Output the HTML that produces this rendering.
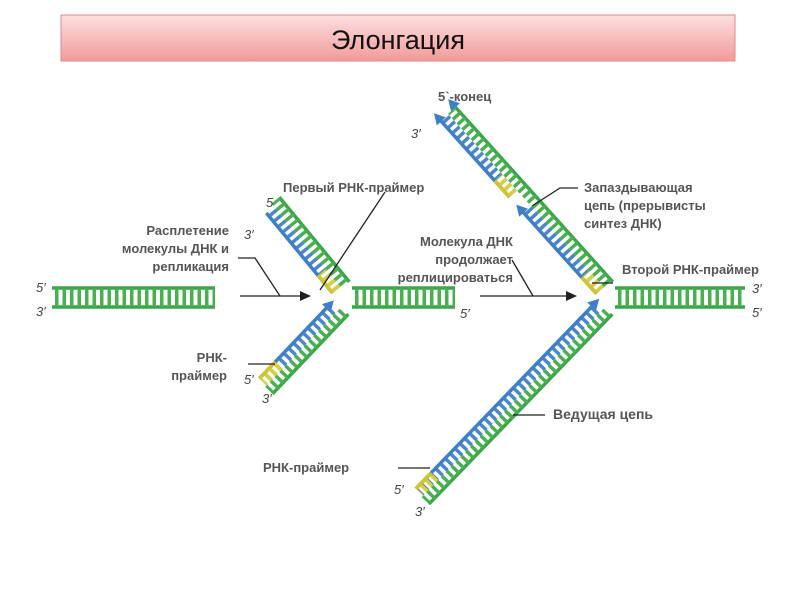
<!DOCTYPE html>
<html><head><meta charset="utf-8"><style>
body{margin:0;background:#fff;width:800px;height:600px;overflow:hidden;font-family:"Liberation Sans",sans-serif}
text{font-family:"Liberation Sans",sans-serif;font-weight:bold;fill:#555;font-size:13px}
.n{font-weight:normal;fill:#444;font-size:13px;font-style:italic}
</style></head><body>
<svg width="800" height="600" viewBox="0 0 800 600" xmlns="http://www.w3.org/2000/svg">
<defs>
<linearGradient id="tg" x1="0" y1="0" x2="0" y2="1"><stop offset="0" stop-color="#fde0e0"/><stop offset="1" stop-color="#f29a9a"/></linearGradient>
</defs>
<rect x="61" y="15" width="674" height="46" fill="url(#tg)" stroke="#d88" stroke-width="1"/>
<text x="398" y="49" text-anchor="middle" style="font-size:27px;font-weight:normal;fill:#111">Элонгация</text>

<!-- left duplex -->
<line x1="52" y1="288" x2="215" y2="288" stroke="#3aa64a" stroke-width="3.5"/>
<line x1="52" y1="307" x2="215" y2="307" stroke="#3aa64a" stroke-width="3.5"/>
<line x1="55" y1="297.5" x2="215" y2="297.5" stroke="#49b050" stroke-width="18" stroke-dasharray="3.5 4"/>
<line x1="352" y1="288" x2="455" y2="288" stroke="#3aa64a" stroke-width="3.5"/>
<line x1="352" y1="307" x2="455" y2="307" stroke="#3aa64a" stroke-width="3.5"/>
<line x1="355" y1="297.5" x2="455" y2="297.5" stroke="#49b050" stroke-width="18" stroke-dasharray="3.5 4"/>
<line x1="615" y1="288" x2="745" y2="288" stroke="#3aa64a" stroke-width="3.5"/>
<line x1="615" y1="307" x2="745" y2="307" stroke="#3aa64a" stroke-width="3.5"/>
<line x1="618" y1="297.5" x2="745" y2="297.5" stroke="#49b050" stroke-width="18" stroke-dasharray="3.5 4"/>

<!-- fork1 upper -->
<g transform="translate(348,296) rotate(-129.6)">
<line x1="10" y1="10" x2="120" y2="10" stroke="#3aa64a" stroke-width="3.5"/>
<line x1="12" y1="5" x2="120" y2="5" stroke="#49b050" stroke-width="10" stroke-dasharray="3.5 3.5"/>
<line x1="12" y1="-5" x2="116" y2="-5" stroke="#4a86cc" stroke-width="10" stroke-dasharray="3.5 3.5"/>
<line x1="12" y1="-10" x2="116" y2="-10" stroke="#3f7fc8" stroke-width="3.5"/>
<line x1="12" y1="-5" x2="35" y2="-5" stroke="#d8cf3c" stroke-width="10" stroke-dasharray="3.5 3.5"/>
<line x1="12" y1="-10" x2="35" y2="-10" stroke="#d0c530" stroke-width="3.5"/>
</g>
<!-- fork1 lower -->
<g transform="translate(348,300) rotate(133.6)">
<line x1="10" y1="-10" x2="120" y2="-10" stroke="#3aa64a" stroke-width="3.5"/>
<line x1="12" y1="-5" x2="120" y2="-5" stroke="#49b050" stroke-width="10" stroke-dasharray="3.5 3.5"/>
<line x1="18" y1="5" x2="118" y2="5" stroke="#4a86cc" stroke-width="10" stroke-dasharray="3.5 3.5"/>
<line x1="18" y1="10" x2="118" y2="10" stroke="#3f7fc8" stroke-width="3.5"/>
<line x1="95" y1="5" x2="118" y2="5" stroke="#d8cf3c" stroke-width="10" stroke-dasharray="3.5 3.5"/>
<line x1="95" y1="10" x2="118" y2="10" stroke="#d0c530" stroke-width="3.5"/>
<polygon points="10,10 21,4 21,16" fill="#3f7fc8"/>
</g>
<!-- fork2 upper -->
<g transform="translate(612,296) rotate(-132)">
<line x1="10" y1="10" x2="245" y2="10" stroke="#3aa64a" stroke-width="3.5"/>
<line x1="12" y1="5" x2="245" y2="5" stroke="#49b050" stroke-width="10" stroke-dasharray="3.5 3.5"/>
<line x1="12" y1="-5" x2="122" y2="-5" stroke="#4a86cc" stroke-width="10" stroke-dasharray="3.5 3.5"/>
<line x1="12" y1="-10" x2="122" y2="-10" stroke="#3f7fc8" stroke-width="3.5"/>
<polygon points="132,-10 121,-16 121,-4" fill="#3f7fc8"/>
<line x1="12" y1="-5" x2="34" y2="-5" stroke="#d8cf3c" stroke-width="10" stroke-dasharray="3.5 3.5"/>
<line x1="12" y1="-10" x2="34" y2="-10" stroke="#d0c530" stroke-width="3.5"/>
<line x1="142" y1="-5" x2="245" y2="-5" stroke="#4a86cc" stroke-width="10" stroke-dasharray="3.5 3.5"/>
<line x1="142" y1="-10" x2="245" y2="-10" stroke="#3f7fc8" stroke-width="3.5"/>
<polygon points="255,-10 244,-16 244,-4" fill="#3f7fc8"/>
<polygon points="256,10 245,4 245,16" fill="#3f7fc8"/>
<line x1="142" y1="-5" x2="164" y2="-5" stroke="#d8cf3c" stroke-width="10" stroke-dasharray="3.5 3.5"/>
<line x1="142" y1="-10" x2="164" y2="-10" stroke="#d0c530" stroke-width="3.5"/>
</g>
<!-- fork2 lower -->
<g transform="translate(612,300) rotate(134)">
<line x1="10" y1="-10" x2="274" y2="-10" stroke="#3aa64a" stroke-width="3.5"/>
<line x1="12" y1="-5" x2="274" y2="-5" stroke="#49b050" stroke-width="10" stroke-dasharray="3.5 3.5"/>
<line x1="18" y1="5" x2="272" y2="5" stroke="#4a86cc" stroke-width="10" stroke-dasharray="3.5 3.5"/>
<line x1="18" y1="10" x2="272" y2="10" stroke="#3f7fc8" stroke-width="3.5"/>
<line x1="250" y1="5" x2="272" y2="5" stroke="#d8cf3c" stroke-width="10" stroke-dasharray="3.5 3.5"/>
<line x1="250" y1="10" x2="272" y2="10" stroke="#d0c530" stroke-width="3.5"/>
<polygon points="8,10 19,4 19,16" fill="#3f7fc8"/>
</g>

<!-- connectors -->
<g stroke="#222" stroke-width="1.3" fill="none">
<polyline points="238,258 255,258 280,296"/>
<line x1="240" y1="296" x2="302" y2="296"/>
<line x1="512" y1="260" x2="533" y2="296"/>
<line x1="480" y1="296" x2="568" y2="296"/>
<line x1="320" y1="290" x2="385" y2="192"/>
<line x1="248" y1="364" x2="275" y2="364"/>
<polyline points="578,188 560,188 532,206"/>
<line x1="592" y1="283" x2="613" y2="283"/>
<line x1="513" y1="415" x2="545" y2="415"/>
<line x1="398" y1="468" x2="430" y2="468"/>
</g>
<polygon points="311,296 300,291 300,301" fill="#222"/>
<polygon points="577,296 566,291 566,301" fill="#222"/>

<text x="229" y="235" text-anchor="end">Расплетение</text>
<text x="229" y="253" text-anchor="end">молекулы ДНК и</text>
<text x="229" y="271" text-anchor="end">репликация</text>
<text x="283" y="192">Первый РНК-праймер</text>
<text x="227" y="362" text-anchor="end">РНК-</text>
<text x="227" y="380" text-anchor="end">праймер</text>
<text x="513" y="246" text-anchor="end">Молекула ДНК</text>
<text x="513" y="264" text-anchor="end">продолжает</text>
<text x="513" y="282" text-anchor="end">реплицироваться</text>
<text x="438" y="101">5`-конец</text>
<text x="584" y="192">Запаздывающая</text>
<text x="584" y="210">цепь (прерывисты</text>
<text x="584" y="228">синтез ДНК)</text>
<text x="622" y="274">Второй РНК-праймер</text>
<text x="553" y="419" style="font-size:14px">Ведущая цепь</text>
<text x="263" y="472">РНК-праймер</text>

<text class="n" x="36" y="292">5′</text>
<text class="n" x="36" y="316">3′</text>
<text class="n" x="266" y="207">5</text>
<text class="n" x="244" y="239">3′</text>
<text class="n" x="244" y="384">5′</text>
<text class="n" x="262" y="403">3′</text>
<text class="n" x="460" y="318">5′</text>
<text class="n" x="411" y="138">3′</text>
<text class="n" x="752" y="293">3′</text>
<text class="n" x="752" y="317">5′</text>
<text class="n" x="394" y="494">5′</text>
<text class="n" x="415" y="516">3′</text>
</svg>
</body></html>
